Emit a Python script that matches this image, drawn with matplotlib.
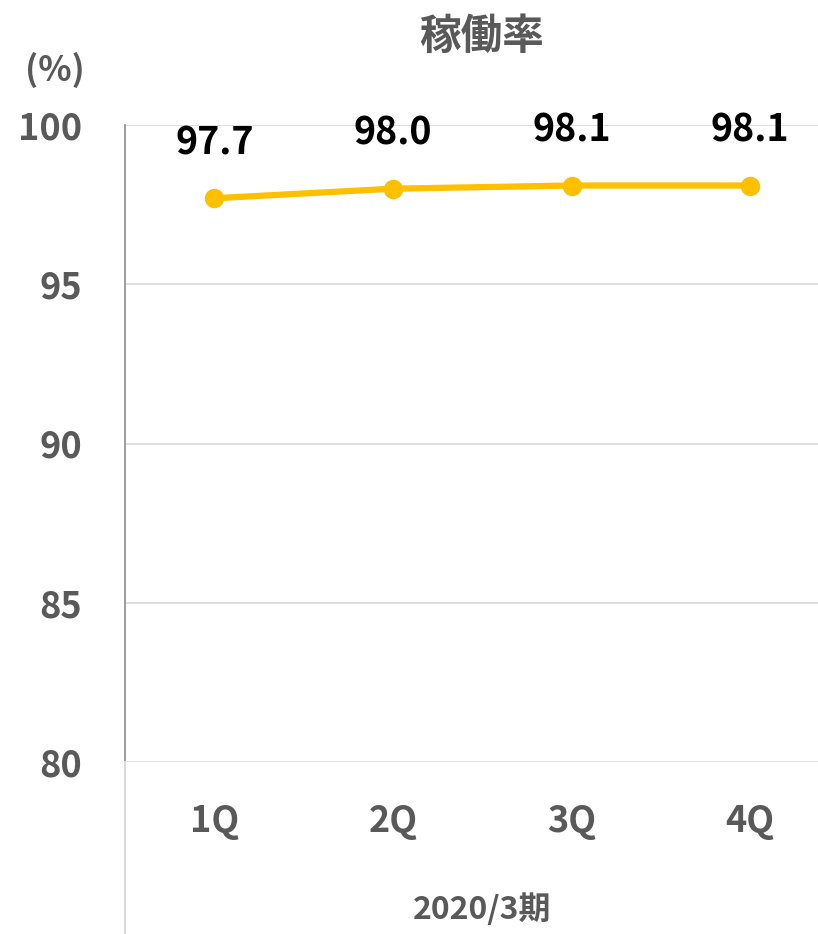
import matplotlib
matplotlib.use('Agg')
import matplotlib.pyplot as plt
from matplotlib.lines import Line2D

plt.rcParams['font.family'] = ['Noto Sans CJK JP', 'DejaVu Sans']

# データ
quarters = ['1Q', '2Q', '3Q', '4Q']
rates = [97.7, 98.0, 98.1, 98.1]
y_ticks = [80, 85, 90, 95, 100]
title = '稼働率'
group_label = '2020/3期'

W, H = 818, 934
fig = plt.figure(figsize=(W / 100, H / 100), dpi=100)

# プロット領域 (右端は図の外まで伸びる)
left, top, bottom = 125, 125, 762
right = 839.5
ax = fig.add_axes([left / W, 1 - bottom / H, (right - left) / W, (bottom - top) / H])

x = list(range(len(quarters)))
ax.plot(x, rates, color='#FFC000', linewidth=4.5, marker='o', markersize=13,
        solid_capstyle='round', zorder=3, clip_on=False)

for xi, v in zip(x, rates):
    ax.annotate(f'{v:.1f}', (xi, v), xytext=(0, 40), textcoords='offset points',
                ha='center', va='center', fontsize=27, fontweight='bold', color='black')

ax.set_xlim(-0.5, 3.5)
ax.set_ylim(80, 100)
ax.set_yticks(y_ticks)
ax.set_yticklabels([str(t) for t in y_ticks], fontsize=26, fontweight='bold', color='#595959')
ax.tick_params(axis='y', length=0, pad=31)
ax.set_xticks([])
ax.grid(axis='y', color='#d9d9d9', linewidth=1.2)
ax.set_axisbelow(True)

for s in ['top', 'right', 'bottom']:
    ax.spines[s].set_visible(False)
ax.spines['left'].set_color('#8c8c8c')
ax.spines['left'].set_linewidth(1.2)

# カテゴリラベル
for xi, q in zip(x, quarters):
    ax.text(xi, -0.094, q, transform=ax.get_xaxis_transform(), ha='center', va='center',
            fontsize=26, fontweight='bold', color='#595959')

# 縦軸の下側の延長
fig.add_artist(Line2D([left / W, left / W], [0, 1 - bottom / H], color='#d9d9d9', linewidth=1.5))

fig.text(482 / W, 1 - 910 / H, group_label, ha='center', va='center',
         fontsize=23, fontweight='bold', color='#595959')
fig.text(482 / W, 1 - 37 / H, title, ha='center', va='center',
         fontsize=30, fontweight='bold', color='#595959')
fig.text(55 / W, 1 - 70 / H, '(%)', ha='center', va='center',
         fontsize=25, fontweight='bold', color='#595959')

fig.savefig('out.png', dpi=100)
